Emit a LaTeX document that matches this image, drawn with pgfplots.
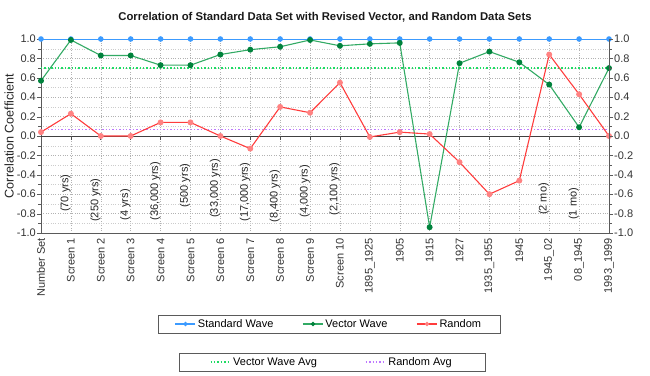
\documentclass[border=0pt]{standalone}
\usepackage{pgfplots}
\usepackage{pgfplotstable}
\pgfplotsset{compat=1.18}
\usepackage{fontspec}
\setmainfont{Liberation Sans}
\definecolor{stdblue}{RGB}{60,155,255}
\definecolor{vecline}{RGB}{50,170,100}
\definecolor{vecmark}{RGB}{0,130,60}
\definecolor{rndline}{RGB}{255,60,60}
\definecolor{rndmark}{RGB}{255,130,130}
\definecolor{vecavg}{RGB}{30,220,100}
\definecolor{rndavg}{RGB}{190,120,255}
\definecolor{axgray}{RGB}{90,90,90}
\tikzset{ann/.style={rotate=90, anchor=south, font=\fontsize{11}{12}\selectfont, text=black!85, inner sep=0pt}}
\pgfplotstableread{
x std vec rnd
0 1.0 0.57 0.04
1 1.0 0.99 0.23
2 1.0 0.83 0.00
3 1.0 0.83 0.00
4 1.0 0.73 0.14
5 1.0 0.73 0.14
6 1.0 0.84 0.00
7 1.0 0.89 -0.13
8 1.0 0.92 0.30
9 1.0 0.99 0.24
10 1.0 0.93 0.55
11 1.0 0.95 -0.01
12 1.0 0.96 0.04
13 1.0 -0.94 0.02
14 1.0 0.75 -0.27
15 1.0 0.87 -0.60
16 1.0 0.76 -0.46
17 1.0 0.53 0.84
18 1.0 0.09 0.43
19 1.0 0.70 0.00
}\data
\begin{document}
\begin{tikzpicture}
\path[use as bounding box] (-41pt,-142pt) rectangle (609pt,233pt);
\pgfplotsset{
  common/.style={
    scale only axis, width=568pt, height=194pt,
    at={(0,0)}, anchor=south west,
    xmin=0, xmax=19, ymin=-1, ymax=1,
    ytick={-1,-0.8,-0.6,-0.4,-0.2,0,0.2,0.4,0.6,0.8,1},
    yticklabel style={/pgf/number format/fixed, /pgf/number format/fixed zerofill,
      /pgf/number format/precision=1, /pgf/number format/assume math mode=true,
      font=\fontsize{11}{12}\selectfont, text=black!80, inner sep=1pt},
    tick align=outside,
    major tick length=4pt,
    minor tick length=2.5pt,
    tick style={axgray},
    axis line style={axgray, line width=0.8pt},
    legend cell align=left,
    legend image code/.code={\draw[mark repeat=2,mark phase=2, mark size=1.6pt] plot coordinates {(0pt,0pt) (10pt,0pt) (20pt,0pt)};},
  },
}
\begin{axis}[common,
  xtick={0,...,19},
  xticklabels={Number Set,Screen 1,Screen 2,Screen 3,Screen 4,Screen 5,Screen 6,Screen 7,Screen 8,Screen 9,Screen 10,1895\_1925,1905,1915,1927,1935\_1955,1945,1945\_02,08\_1945,1993\_1999},
  x tick label style={rotate=90, anchor=east, font=\fontsize{11}{12}\selectfont, text=black!80, inner sep=1pt},
  xtick style={draw=none},
  minor y tick num=1,
  ytick pos=left,
  grid=both,
  major grid style={dotted, black!30},
  minor grid style={dotted, black!20},
  ylabel={Correlation Coefficient},
  ylabel style={font=\fontsize{12.6}{14}\selectfont, at={(axis description cs:-0.0563,0.5)}, anchor=center, text=black!85},
  title={\textbf{Correlation of Standard Data Set with Revised Vector, and Random Data Sets}},
  title style={font=\fontsize{11.3}{13}\selectfont, yshift=7pt, text=black!90},
  legend style={at={(0.507,-0.469)}, anchor=center, draw=axgray,
    font=\fontsize{11}{12}\selectfont, legend columns=3,
    /tikz/every even column/.append style={column sep=27pt},
    inner xsep=17pt, inner ysep=2pt},
]
\addplot[vecavg, dotted, line width=1.4pt, forget plot] coordinates {(0,0.70) (19,0.70)};
\addplot[rndavg, dotted, line width=1.4pt, forget plot] coordinates {(0,0.07) (19,0.07)};
\draw[black!75, line width=0.9pt] (axis cs:0,0) -- (axis cs:19,0);
\pgfplotsinvokeforeach{1,...,18}{\draw[black!70, line width=0.7pt] (axis cs:#1,0) -- ++(0pt,-4pt);}
\addplot[stdblue, line width=1.1pt, mark=*, mark size=2.2pt, mark options={fill=stdblue, draw=stdblue}] table[x=x,y=std] {\data};
\addplot[vecline, line width=1.1pt, mark=*, mark size=2.4pt, mark options={fill=vecmark, draw=vecmark}] table[x=x,y=vec] {\data};
\addplot[rndline, line width=1.1pt, mark=*, mark size=2.4pt, mark options={fill=rndmark, draw=rndmark}] table[x=x,y=rnd] {\data};
\legend{Standard Wave, Vector Wave, Random}
\node[ann] at (axis cs:1,-0.59) {(70 yrs)};
\node[ann] at (axis cs:2,-0.66) {(250 yrs)};
\node[ann] at (axis cs:3,-0.71) {(4 yrs)};
\node[ann] at (axis cs:4,-0.57) {(36,000 yrs)};
\node[ann] at (axis cs:5,-0.51) {(500 yrs)};
\node[ann] at (axis cs:6,-0.54) {(33,000 yrs)};
\node[ann] at (axis cs:7,-0.58) {(17,000 yrs)};
\node[ann] at (axis cs:8,-0.62) {(8,400 yrs)};
\node[ann] at (axis cs:9,-0.57) {(4,000 yrs)};
\node[ann] at (axis cs:10,-0.55) {(2,100 yrs)};
\node[ann] at (axis cs:17,-0.65) {(2 mo)};
\node[ann] at (axis cs:18,-0.70) {(1 mo)};
\end{axis}
\begin{axis}[common,
  axis x line=none,
  axis y line*=right,
  minor y tick num=1,
  legend style={at={(0.512,-0.665)}, anchor=center, draw=axgray,
    font=\fontsize{11}{12}\selectfont, legend columns=2,
    /tikz/every even column/.append style={column sep=46pt},
    inner xsep=31pt, inner ysep=2pt},
]
\addlegendimage{vecavg, dotted, line width=1.4pt}
\addlegendentry{Vector Wave Avg}
\addlegendimage{rndavg, dotted, line width=1.4pt}
\addlegendentry{Random Avg}
\end{axis}
\end{tikzpicture}
\end{document}
